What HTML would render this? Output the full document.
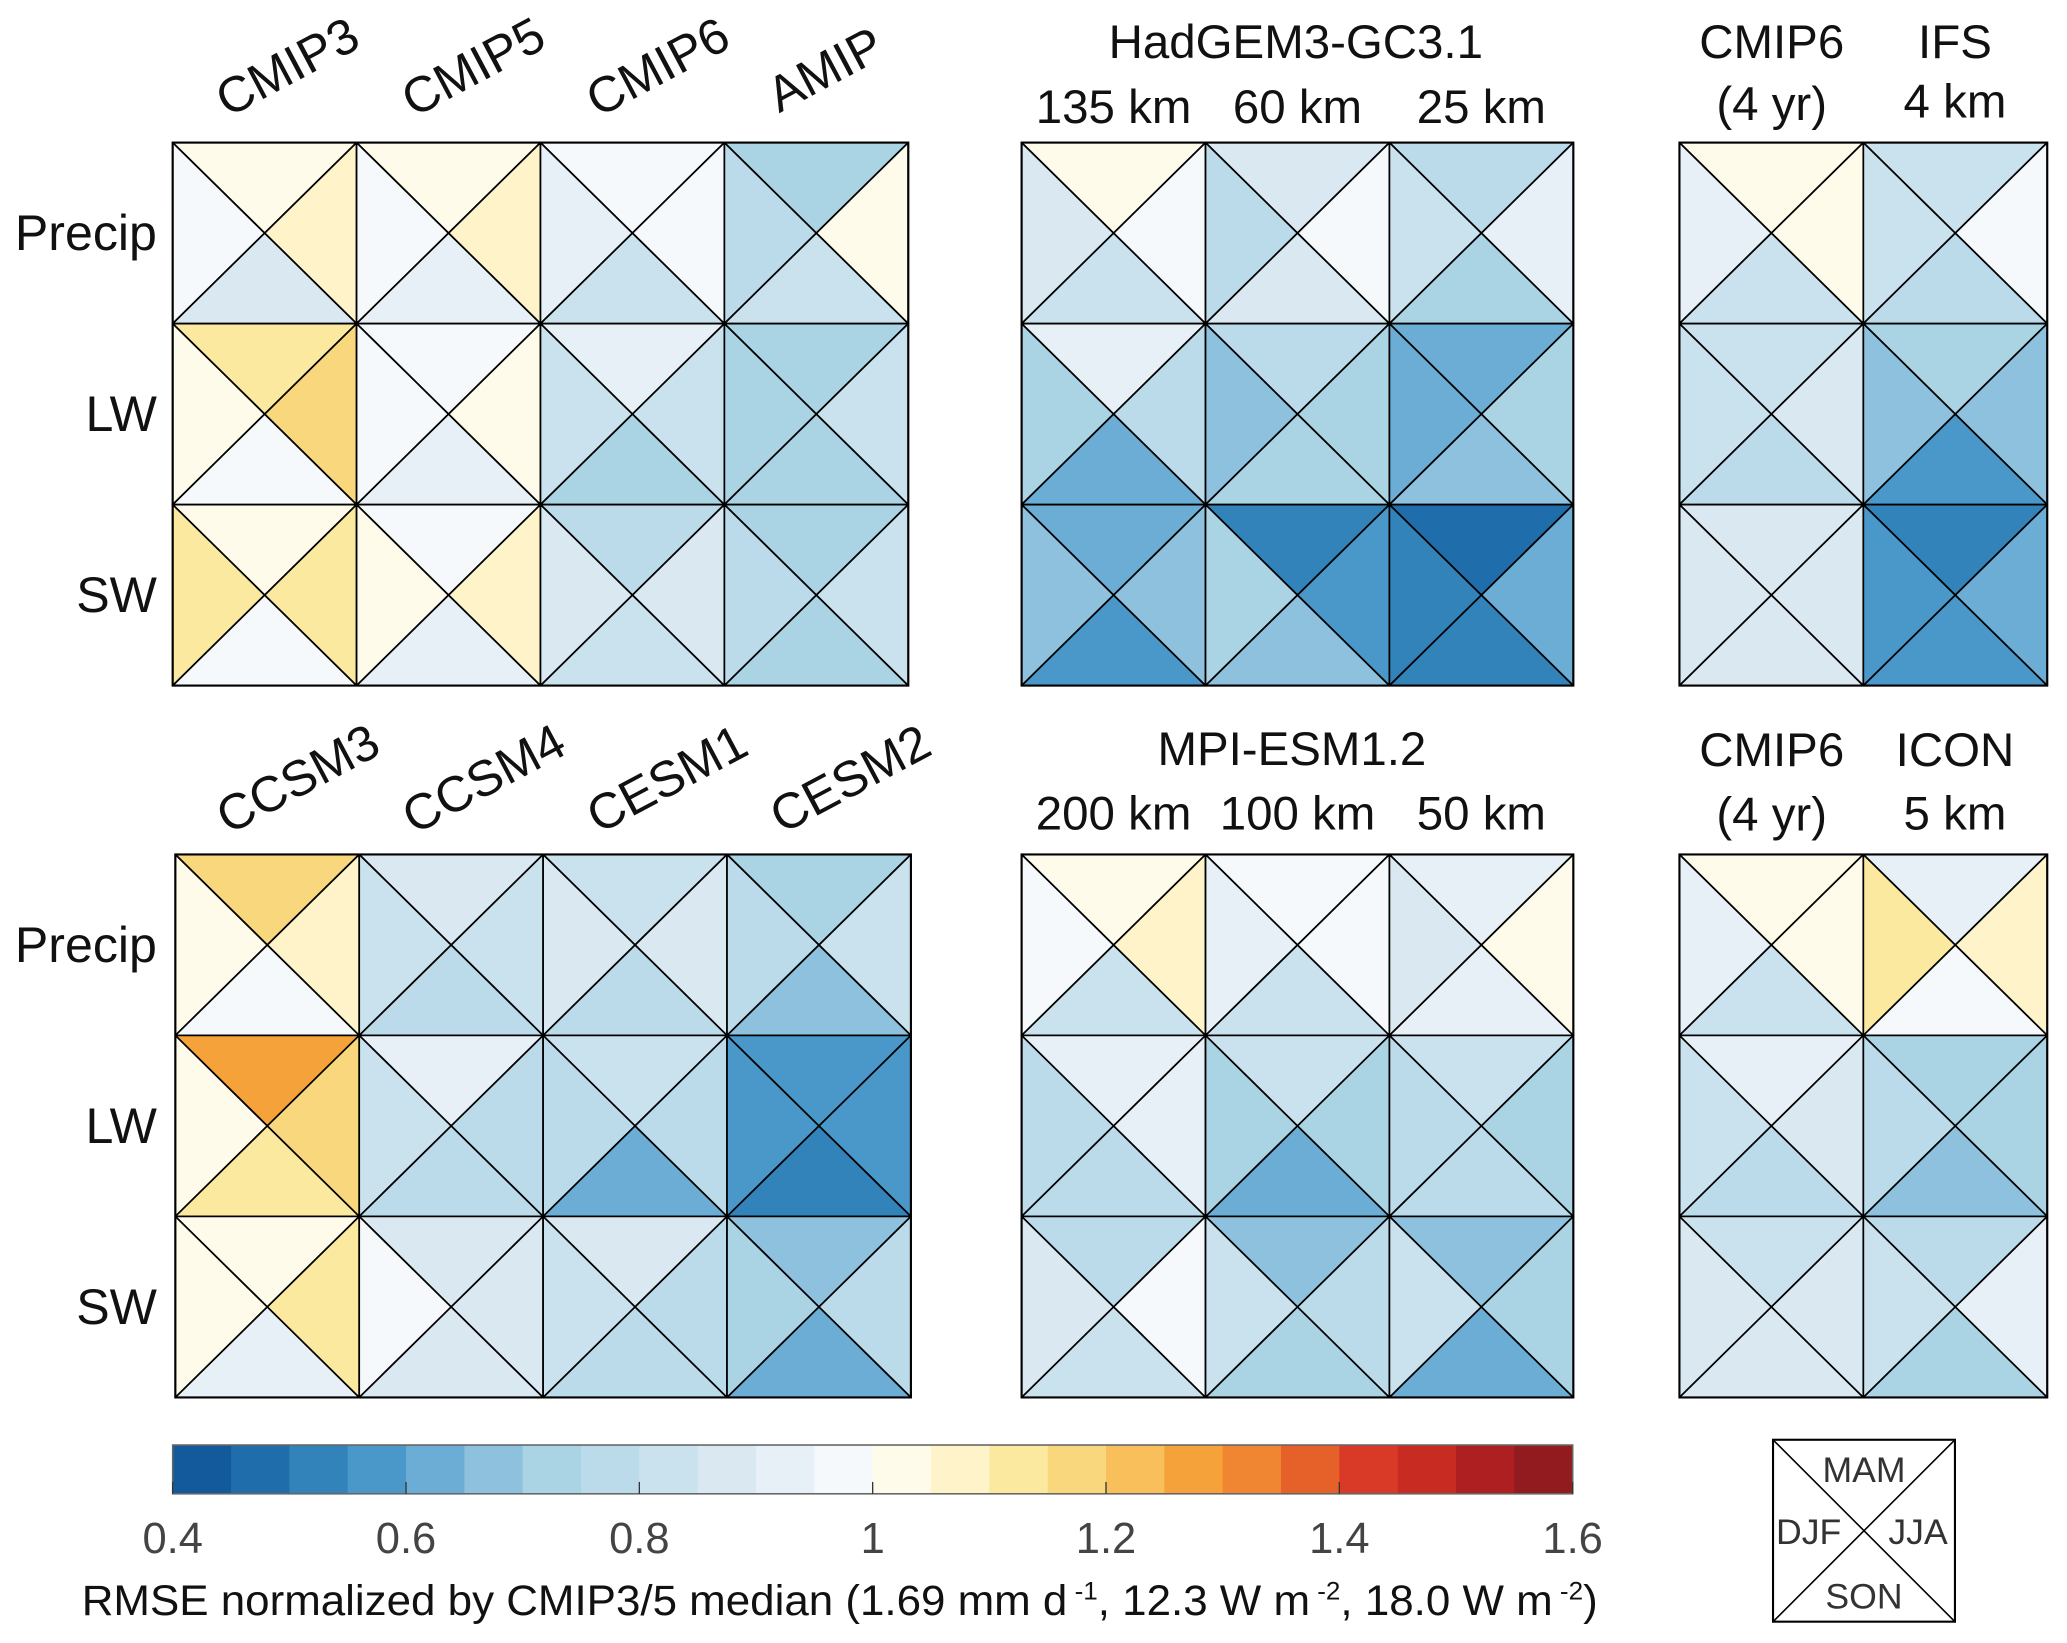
<!DOCTYPE html>
<html><head><meta charset="utf-8"><style>
html,body{margin:0;padding:0;background:#fff;}
svg{display:block;font-family:"Liberation Sans",Arial,sans-serif;}
</style></head><body>
<svg id="fig" width="2067" height="1643" viewBox="0 0 1568 1246" xmlns="http://www.w3.org/2000/svg"></svg>
<script>
// Colour bins (0.4–1.6 in 0.05 steps)
const binColors=["#125a9c","#1f6dab","#3283ba","#4998c9","#6badd4","#8dc1dd","#aad3e4","#bbdaea","#cae2ed","#d9e8f1","#e8f0f7","#f6f9fc","#fefbea","#fef3c9","#fbe9a0","#f9d77d","#f8bf5a","#f6a23b","#f08532","#e6612a","#d93a27","#c82b22","#ae1f22","#921b20"];
const cbTicks=[0.4,0.6,0.8,1,1.2,1.4,1.6];
const rowLabels=["Precip","LW","SW"];
// each cell: [MAM(top), DJF(left), JJA(right), SON(bottom)]
const panelA=[[[1.02,0.97,1.07,0.87],[1.02,0.97,1.07,0.92],[0.97,0.92,0.97,0.82],[0.72,0.77,1.02,0.82]],
[[1.12,1.02,1.17,0.97],[0.97,0.97,1.02,0.92],[0.92,0.82,0.82,0.72],[0.72,0.72,0.82,0.72]],
[[1.02,1.12,1.12,0.97],[0.97,1.02,1.07,0.92],[0.77,0.87,0.87,0.82],[0.72,0.77,0.82,0.72]]];
const panelB=[[[1.02,0.87,0.97,0.82],[0.87,0.77,0.97,0.87],[0.77,0.82,0.92,0.72]],
[[0.92,0.72,0.77,0.62],[0.77,0.67,0.72,0.72],[0.62,0.62,0.72,0.67]],
[[0.62,0.67,0.67,0.57],[0.52,0.72,0.57,0.67],[0.47,0.52,0.62,0.52]]];
const panelC=[[[1.02,0.92,1.02,0.82],[0.82,0.82,0.97,0.77]],
[[0.82,0.82,0.87,0.77],[0.72,0.67,0.67,0.57]],
[[0.87,0.87,0.87,0.87],[0.52,0.57,0.62,0.57]]];
const panelD=[[[1.17,1.02,1.07,0.97],[0.87,0.82,0.82,0.77],[0.82,0.87,0.87,0.77],[0.72,0.77,0.82,0.67]],
[[1.27,1.02,1.17,1.12],[0.92,0.82,0.77,0.77],[0.82,0.77,0.77,0.62],[0.57,0.57,0.57,0.52]],
[[1.02,1.02,1.12,0.92],[0.87,0.97,0.87,0.87],[0.87,0.82,0.77,0.77],[0.67,0.72,0.77,0.62]]];
const panelE=[[[1.02,0.97,1.07,0.82],[0.97,0.92,0.97,0.82],[0.92,0.87,1.02,0.92]],
[[0.92,0.77,0.92,0.77],[0.82,0.72,0.72,0.62],[0.82,0.77,0.72,0.77]],
[[0.77,0.87,0.97,0.82],[0.67,0.82,0.77,0.72],[0.67,0.82,0.72,0.62]]];
const panelF=[[[1.02,0.92,1.02,0.82],[0.92,1.12,1.07,0.97]],
[[0.92,0.82,0.87,0.77],[0.72,0.77,0.72,0.67]],
[[0.82,0.87,0.87,0.87],[0.77,0.82,0.92,0.72]]];

const NS="http://www.w3.org/2000/svg";
const svg=document.getElementById('fig');
function mk(tag,attrs,parent){const e=document.createElementNS(NS,tag);for(const k in attrs)e.setAttribute(k,attrs[k]);(parent||svg).appendChild(e);return e;}
function color(v){let i=Math.floor((v-0.4)/0.05);i=Math.max(0,Math.min(binColors.length-1,i));return binColors[i];}
const CW=139.5, RH=137.3;
function panel(data,x0,y0,name){
  const g=mk('g',{});
  
  
  data.forEach((row,r)=>row.forEach((cell,c)=>{
    const x=x0+c*CW,y=y0+r*RH,cx=x+CW/2,cy=y+RH/2;
    const pts=[[[x,y],[x+CW,y]],[[x,y],[x,y+RH]],[[x+CW,y],[x+CW,y+RH]],[[x,y+RH],[x+CW,y+RH]]];
    const names=['mam','djf','jja','son'];
    cell.forEach((v,k)=>{
      const p=mk('polygon',{points:`${pts[k][0]} ${pts[k][1]} ${cx},${cy}`,fill:color(v),stroke:'#000','stroke-width':1.3,'stroke-linejoin':'round'},g);
      
      
    });
  }));
  mk('rect',{x:x0,y:y0,width:CW*data[0].length,height:RH*3,fill:'none',stroke:'#000','stroke-width':1.6},g);
}
function txt(s,x,y,size,opts,name){
  const t=mk('text',Object.assign({x:x,y:y,'font-size':size,fill:'#111','text-anchor':'middle'},opts||{}));
  t.textContent=s;
  
  
  return t;
}
panel(panelA,131,108,'panel-cmip');
panel(panelB,775,108,'panel-hadgem');
panel(panelC,1274,108,'panel-ifs');
panel(panelD,133,648,'panel-cesm');
panel(panelE,775,648,'panel-mpi');
panel(panelF,1274,648,'panel-icon');

// row labels
[[108,'top'],[648,'bottom']].forEach(([y0,tag])=>rowLabels.forEach((l,i)=>txt(l,119,y0+RH*i+RH/2+13,38,{'text-anchor':'end'},`row-label-${tag}-${l.toLowerCase()}`)));
// rotated headers
[["CMIP3",224,62],["CMIP5",365,62],["CMIP6",505,62],["AMIP",632,64],["CCSM3",232,602],["CCSM4",373,602],["CESM1",512,602],["CESM2",651,602]].forEach(([s,x,y])=>txt(s,x,y,38,{transform:`rotate(-28 ${x} ${y})`},`column-label-${s.toLowerCase()}`));
txt("HadGEM3-GC3.1",983,44,36,{},'hadgem-title');
["135 km","60 km","25 km"].forEach((s,i)=>txt(s,775+CW*i+CW/2,93,36,{},'hadgem-res-'+i));
txt("MPI-ESM1.2",980,580,36,{},'mpi-title');
["200 km","100 km","50 km"].forEach((s,i)=>txt(s,775+CW*i+CW/2,629,36,{},'mpi-res-'+i));
txt("CMIP6",1344,44,36,{},'cmip6-top-label');txt("(4 yr)",1344,91,36,{},'cmip6-top-sub');
txt("IFS",1483,44,36,{},'ifs-label');txt("4 km",1483,89,36,{},'ifs-res');
txt("CMIP6",1344,581,36,{},'cmip6-bottom-label');txt("(4 yr)",1344,630,36,{},'cmip6-bottom-sub');
txt("ICON",1483,581,36,{},'icon-label');txt("5 km",1483,629,36,{},'icon-res');

// colorbar
const cbX0=131,cbX1=1193,cbY=1096,cbH=37;
function cbx(v){return cbX0+(v-0.4)/1.2*(cbX1-cbX0);}
const cg=mk('g',{});


binColors.forEach((c,i)=>{const v=0.4+i*0.05;const r=mk('rect',{x:cbx(v),y:cbY,width:cbx(v+0.05)-cbx(v)+0.5,height:cbH,fill:c},cg);

});
mk('rect',{x:cbX0,y:cbY,width:cbX1-cbX0,height:cbH,fill:'none',stroke:'#666','stroke-width':1.2},cg);
cbTicks.forEach(v=>{mk('line',{x1:cbx(v),x2:cbx(v),y1:cbY+cbH,y2:cbY+cbH-9,stroke:'#333','stroke-width':1},cg);
txt(v===1?"1":v.toFixed(1),cbx(v),1178,33,{fill:'#444'},'colorbar-tick-'+v);});
const lab=txt("",62,1225,32,{fill:'#111','text-anchor':'start',textLength:1150,lengthAdjust:'spacingAndGlyphs'},'colorbar-title');
lab.innerHTML='RMSE normalized by CMIP3/5 median (1.69 mm d<tspan dy="-12" font-size="19"> -1</tspan><tspan dy="12">, 12.3 W m</tspan><tspan dy="-12" font-size="19"> -2</tspan><tspan dy="12">, 18.0 W m</tspan><tspan dy="-12" font-size="19"> -2</tspan><tspan dy="12">)</tspan>';

// season key
const kg=mk('g',{});


mk('rect',{x:1345,y:1092,width:138,height:138,fill:'#fff',stroke:'#000','stroke-width':1.6},kg);
mk('line',{x1:1345,y1:1092,x2:1483,y2:1230,stroke:'#000','stroke-width':1.2},kg);
mk('line',{x1:1483,y1:1092,x2:1345,y2:1230,stroke:'#000','stroke-width':1.2},kg);
txt("MAM",1414,1124,27,{fill:'#333'},'key-mam');
txt("DJF",1372,1171,27,{fill:'#333'},'key-djf');
txt("JJA",1455,1171,27,{fill:'#333'},'key-jja');
txt("SON",1414,1220,27,{fill:'#333'},'key-son');
</script>
</body></html>
